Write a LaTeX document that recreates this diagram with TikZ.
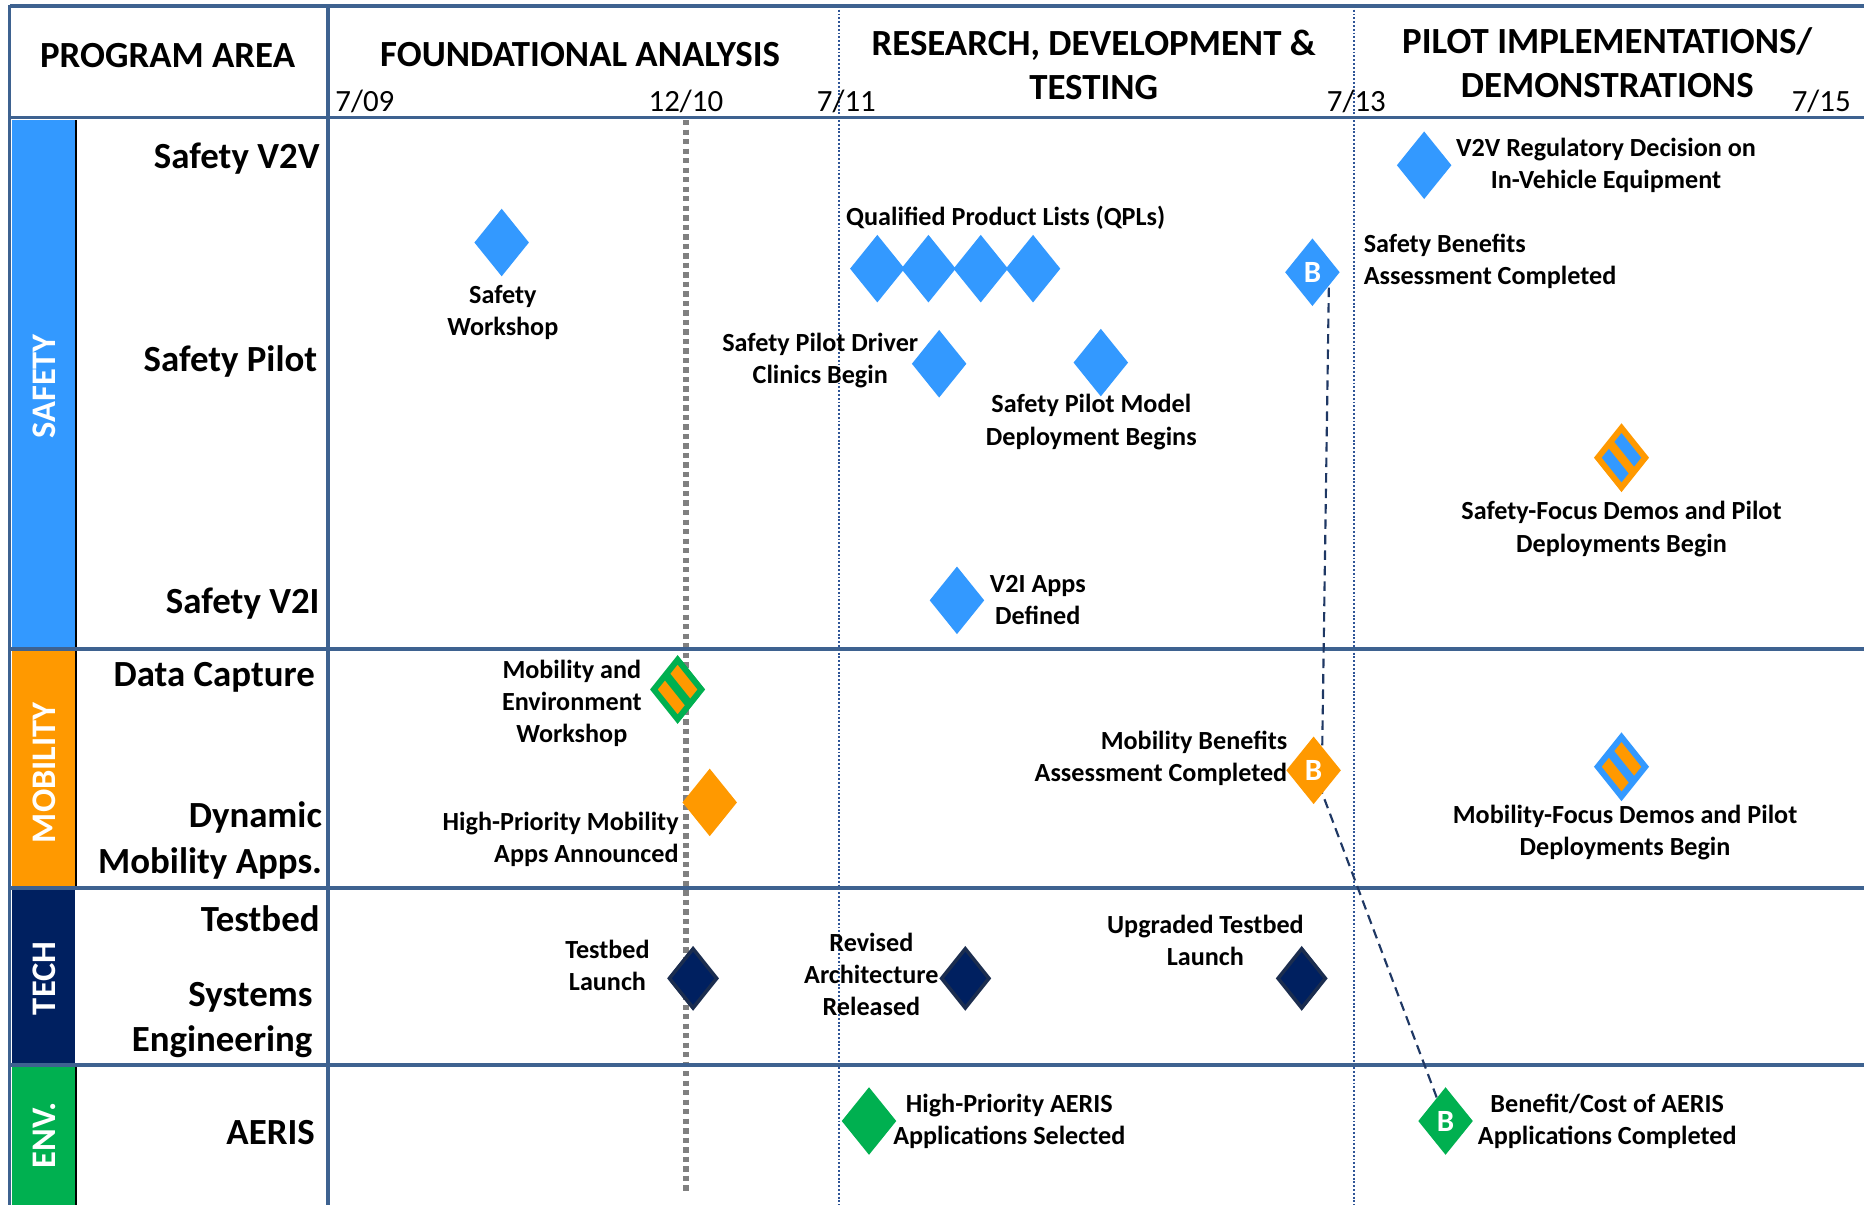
\documentclass[tikz,border=0pt]{standalone}
\usepackage{fontspec}
\setmainfont{Carlito}
\usetikzlibrary{shapes.geometric,backgrounds}
\definecolor{gridc}{HTML}{3E6290}
\definecolor{sblue}{HTML}{3399FF}
\definecolor{sorange}{HTML}{FF9900}
\definecolor{snavy}{HTML}{002060}
\definecolor{snavyb}{HTML}{1B2D4F}
\definecolor{sgreen}{HTML}{00B050}
\definecolor{dotc}{HTML}{2F5597}
\definecolor{connc}{HTML}{1F3864}
\definecolor{grayd}{HTML}{808080}
\tikzset{
  gridline/.style={gridc, line width=3pt},
  dotline/.style={dotc, line width=1.4pt, dash pattern=on 1.6pt off 1.6pt},
  grayline/.style={grayd, line width=4.5pt, dash pattern=on 4.5pt off 3.5pt},
  conn/.style={connc, line width=1.8pt, dash pattern=on 8pt off 5pt},
  mk/.style={diamond, minimum width=46pt, minimum height=57pt, inner sep=0pt, aspect=0.8},
  mblue/.style={mk, fill=sblue},
  morange/.style={mk, fill=sorange},
  mgreen/.style={mk, fill=sgreen},
  mnavy/.style={diamond, minimum width=41pt, minimum height=51pt, inner sep=0pt, aspect=0.8, fill=snavy, draw=snavyb, line width=3pt},
  bmk/.style={text=white, font=\fontsize{26}{30}\selectfont\bfseries},
  striped/.style 2 args={diamond, minimum width=42pt, minimum height=52pt, inner sep=0pt, aspect=0.8, fill=#2, draw=#1, line width=5pt,
     path picture={\draw[#1, line width=7pt] (path picture bounding box.north west) -- (path picture bounding box.south east);}},
  hdr/.style={font=\fontsize{31}{37}\selectfont\bfseries, align=center, inner sep=0pt},
  date/.style={font=\fontsize{26}{30}\selectfont, inner sep=0pt},
  area/.style={font=\fontsize{31}{38}\selectfont\bfseries, align=right, inner sep=0pt, anchor=east},
  vlab/.style={font=\fontsize{29}{35}\selectfont\bfseries, text=white, rotate=90, inner sep=0pt},
  lbl/.style={font=\fontsize{22}{27}\selectfont\bfseries, align=center, inner sep=0pt},
}
\begin{document}
\begin{tikzpicture}[x=1pt, y=-1pt]
\useasboundingbox (0,0) rectangle (1568,1014);

% headers
\node[hdr] (hPA) at (141,47) {PROGRAM AREA};
\node[hdr] (hFA) at (488,46) {FOUNDATIONAL ANALYSIS};
\node[hdr] (hRD) at (920,55) {RESEARCH, DEVELOPMENT \&\\TESTING};
\node[hdr] (hPI) at (1352,53) {PILOT IMPLEMENTATIONS/\\DEMONSTRATIONS};
\node[date, anchor=west] (d1) at (282,85) {7/09};
\node[date] (d2) at (577,85) {12/10};
\node[date] (d3) at (712,85) {7/11};
\node[date] (d4) at (1141,85) {7/13};
\node[date] (d5) at (1532,85) {7/15};

% program areas
\node[area] (a1) at (269,133) {Safety V2V};
\node[area] (a2) at (267,304) {Safety Pilot};
\node[area] (a3) at (269,508) {Safety V2I};
\node[area] (a4) at (265,570) {Data Capture};
\node[area] (a5) at (271,707) {Dynamic\\Mobility Apps.};
\node[area] (a6) at (269,773) {Testbed};
\node[area] (a7) at (263,858) {Systems\\Engineering};
\node[area] (a8) at (265,953) {AERIS};

% vertical bar labels
\node[vlab] (vS) at (37,325) {SAFETY};
\node[vlab] (vM) at (37,650) {MOBILITY};
\node[vlab] (vT) at (37,823) {TECH};
\node[vlab] (vE) at (37,955) {ENV.};

% safety markers
\node[mblue] (sw) at (422,204) {};
\node[lbl] (swl) at (423,263) {Safety\\Workshop};
\node[mblue] (q1) at (738,226) {};
\node[mblue] (q2) at (781,226) {};
\node[mblue] (q3) at (825,226) {};
\node[mblue] (q4) at (869,226) {};
\node[lbl] (ql) at (846,183) {Qualified Product Lists (QPLs)};
\node[mblue] (dc) at (790,306) {};
\node[lbl] (dcl) at (690,303) {Safety Pilot Driver\\Clinics Begin};
\node[mblue] (md) at (926,305) {};
\node[lbl] (mdl) at (918,355) {Safety Pilot Model\\Deployment Begins};
\node[mblue] (v2i) at (805,505) {};
\node[lbl] (v2il) at (873,505) {V2I Apps\\Defined};
\node[mblue] (v2v) at (1198,139) {};
\node[lbl] (v2vl) at (1351,139) {V2V Regulatory Decision on\\In-Vehicle Equipment};
\node[mblue, bmk] (bB) at (1104,229) {B};
\node[lbl, anchor=west, align=left] (bBl) at (1147,220) {Safety Benefits\\Assessment Completed};
\node[striped={sorange}{sblue}] (sf) at (1364,385) {};
\node[lbl] (sfl) at (1364,445) {Safety-Focus Demos and Pilot\\Deployments Begin};

% mobility markers
\node[striped={sgreen}{sorange}] (mw) at (570,580) {};
\node[lbl] (mwl) at (481,592) {Mobility and\\Environment\\Workshop};
\node[morange] (ho) at (597,675) {};
\node[lbl, anchor=east, align=right] (hol) at (571,706) {High-Priority Mobility\\Apps Announced};
\node[morange, bmk] (mB) at (1105,648) {B};
\node[lbl, anchor=east, align=right] (mBl) at (1083,638) {Mobility Benefits\\Assessment Completed};
\node[striped={sblue}{sorange}] (mf) at (1364,645) {};
\node[lbl] (mfl) at (1367,700) {Mobility-Focus Demos and Pilot\\Deployments Begin};

% tech markers
\node[mnavy] (t1) at (583,823) {};
\node[lbl] (t1l) at (511,812) {Testbed\\Launch};
\node[mnavy] (t2) at (812,823) {};
\node[lbl] (t2l) at (733,820) {Revised\\Architecture\\Released};
\node[mnavy] (t3) at (1095,823) {};
\node[lbl] (t3l) at (1014,791) {Upgraded Testbed\\Launch};

% env markers
\node[mgreen] (e1) at (731,943) {};
\node[lbl] (e1l) at (849,943) {High-Priority AERIS\\Applications Selected};
\node[mgreen, bmk] (gB) at (1216,943) {B};
\node[lbl] (gBl) at (1352,943) {Benefit/Cost of AERIS\\Applications Completed};

\begin{scope}[on background layer]
  \fill[white] (0,0) rectangle (1568,1014);
  % colour bars
  \fill[sblue] (10,101) rectangle (63,545);
  \fill[sorange] (10,547) rectangle (63,746);
  \fill[snavy] (10,748) rectangle (63,895);
  \fill[sgreen] (10,897) rectangle (63,1014);
  \draw[black, line width=1pt] (64,101) -- (64,746);
  \draw[black, line width=1pt] (64,897) -- (64,1014);
  % time markers
  \draw[dotline] (706,5) -- (706,1014);
  \draw[dotline] (1139,5) -- (1139,1014);
  \draw[grayline] (577,101) -- (577,1005);
  % grid
  \draw[gridline] (8,5) -- (1568,5);
  \draw[gridline] (8,99) -- (1568,99);
  \draw[gridline] (8,546) -- (1568,546);
  \draw[gridline] (8,747) -- (1568,747);
  \draw[gridline] (8,896) -- (1568,896);
  \draw[gridline] (8,4) -- (8,1014);
  \draw[gridline] (276,4) -- (276,1014);
  % benefit links
  \draw[conn] ([xshift=14pt]bB.center) -- ([xshift=7pt]mB.center);
  \draw[conn] (mB.center) -- (gB.center);
\end{scope}
\end{tikzpicture}
\end{document}
